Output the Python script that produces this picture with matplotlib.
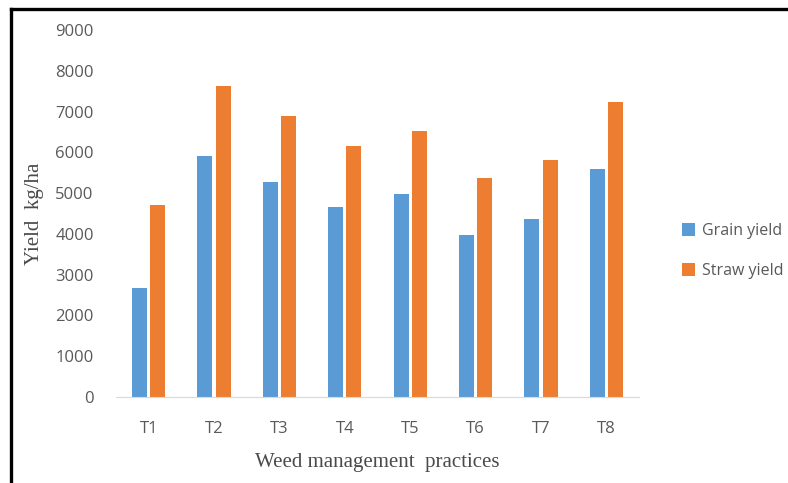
import numpy as np
import matplotlib
matplotlib.use("Agg")
import matplotlib.pyplot as plt
from matplotlib.lines import Line2D

# Yield per weed management treatment (kg/ha)
treatments = ["T1", "T2", "T3", "T4", "T5", "T6", "T7", "T8"]
grain_yield = [2680, 5920, 5280, 4660, 4975, 3980, 4360, 5590]
straw_yield = [4705, 7620, 6880, 6150, 6535, 5365, 5800, 7230]
y_ticks = [0, 1000, 2000, 3000, 4000, 5000, 6000, 7000, 8000, 9000]

BLUE = "#5B9BD5"
ORANGE = "#ED7D31"
GREY = "#595959"

fig = plt.figure(figsize=(7.88, 4.83), dpi=100)
ax = fig.add_axes([116 / 788, 1 - 397 / 483, 523 / 788, 367 / 483])

x = np.arange(len(treatments))
w = 0.23
gap = 0.025
ax.bar(x - w / 2 - gap, grain_yield, w, color=BLUE, label="Grain yield")
ax.bar(x + w / 2 + gap, straw_yield, w, color=ORANGE, label="Straw yield")

ax.set_xlim(-0.5, len(treatments) - 0.5)
ax.set_ylim(0, 9000)
ax.set_yticks(y_ticks)
ax.set_xticks(x)
ax.set_xticklabels(treatments)
ax.tick_params(length=0, labelsize=12, labelcolor=GREY)
ax.tick_params(axis="x", pad=17)
ax.tick_params(axis="y", pad=16)
for lbl in ax.get_xticklabels() + ax.get_yticklabels():
    lbl.set_family("Open Sans")

for side in ("top", "right", "left"):
    ax.spines[side].set_visible(False)
ax.spines["bottom"].set_color("#D9D9D9")

ax.set_xlabel("Weed management  practices", family="Liberation Serif",
              fontsize=15, color="#4A4A4A", labelpad=12)
ax.set_ylabel("Yield  kg/ha", family="Liberation Serif",
              fontsize=15, color="#4A4A4A", labelpad=8)

fig.legend(loc="center left", bbox_to_anchor=(668 / 788, 1 - 251 / 483),
           frameon=False, prop={"family": "Open Sans", "size": 11.5},
           labelcolor=GREY, handlelength=0.8, handleheight=0.8,
           handletextpad=0.4, labelspacing=1.5)

# frame lines on the left and top edges of the image
fig.add_artist(Line2D([10.5 / 788, 10.5 / 788], [0, 1 - 8.5 / 483],
                      transform=fig.transFigure, color="black", lw=2.4,
                      solid_capstyle="projecting"))
fig.add_artist(Line2D([10.5 / 788, 1], [1 - 8.5 / 483, 1 - 8.5 / 483],
                      transform=fig.transFigure, color="black", lw=2.4,
                      solid_capstyle="projecting"))

fig.savefig("out.png", dpi=100)
